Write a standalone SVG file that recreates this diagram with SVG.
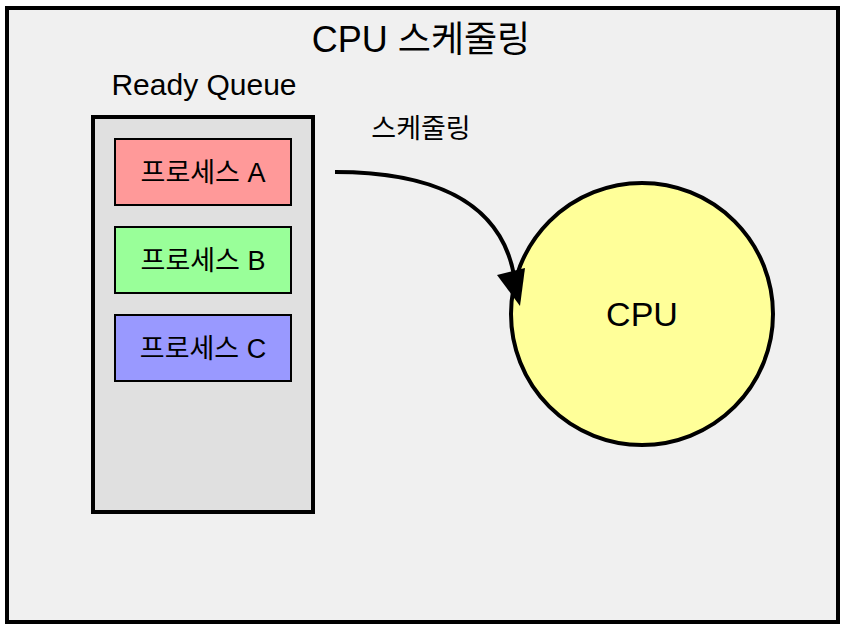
<svg xmlns="http://www.w3.org/2000/svg" width="842" height="626" viewBox="0 0 842 626">
<style>
text{font-family:"Liberation Sans","Noto Sans CJK KR",sans-serif;fill:#000;text-anchor:middle}
.proc{stroke:#000;stroke-width:2}
.ptxt{font-size:27px}
</style>
<g id="frame">
<rect x="7" y="8" width="831" height="614" fill="#f0f0f0" stroke="#000" stroke-width="4"/>
<text x="421" y="52" font-size="36">CPU 스케줄링</text>
</g>
<g id="queue">
<text x="204" y="95" font-size="30">Ready Queue</text>
<rect x="93" y="117" width="220" height="395" fill="#e0e0e0" stroke="#000" stroke-width="4"/>
</g>
<g id="procA"><rect class="proc" x="115" y="139" width="176" height="66" fill="#ff9999"/><text class="ptxt" x="203" y="182">프로세스 A</text></g>
<g id="procB"><rect class="proc" x="115" y="227" width="176" height="66" fill="#99ff99"/><text class="ptxt" x="203" y="270">프로세스 B</text></g>
<g id="procC"><rect class="proc" x="115" y="315" width="176" height="66" fill="#9999ff"/><text class="ptxt" x="203" y="358">프로세스 C</text></g>
<g id="cpu">
<circle cx="642" cy="314" r="131" fill="#ffff99" stroke="#000" stroke-width="4"/>
<text x="642" y="326" font-size="34">CPU</text>
</g>
<g id="connectors">
<path d="M335,172 C430,172 500,200 514,275" fill="none" stroke="#000" stroke-width="4"/>
<path d="M497,275 L525,268 L520,306 z" fill="#000"/>
<text x="421" y="138" font-size="27">스케줄링</text>
</g>
</svg>
